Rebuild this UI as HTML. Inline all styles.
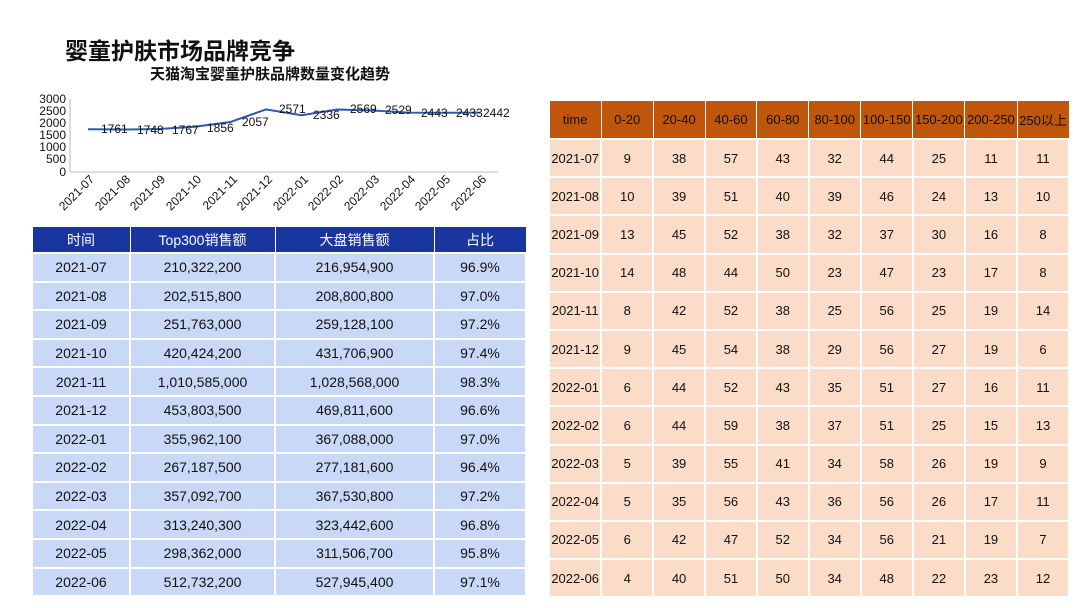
<!DOCTYPE html>
<html><head><meta charset="utf-8"><style>
body{margin:0;width:1080px;height:608px;background:#fff;position:relative;overflow:hidden;font-family:"Liberation Sans","Noto Sans CJK SC",sans-serif;}
.t1{position:absolute;left:65px;top:32px;font-size:23px;font-weight:bold;color:#111;}
.t2{position:absolute;left:150px;top:63px;font-size:15px;font-weight:bold;color:#111;}
table{position:absolute;border-collapse:collapse;font-size:13px;color:#111;}
td,th{text-align:center;padding:0;font-weight:normal;}
#L{left:31px;top:226px;width:496px;}
#L th{background:#1b35a0;color:#fff;height:25px;border:1.5px solid #fff;font-size:14px;}
#L td{background:#c8d8f6;height:26.6px;border:2px solid #fff;font-size:14px;}
#R{left:548px;top:100px;width:522px;}
#R th{background:#c0560c;color:#111;height:37px;border:1.5px solid #fff;font-size:13px;width:52px;}
#R td{background:#fbdcc8;height:36.2px;border:2px solid #fff;font-size:13px;}
</style></head><body>
<div class="t1">婴童护肤市场品牌竞争</div>
<div class="t2">天猫淘宝婴童护肤品牌数量变化趋势</div>
<svg width="540" height="230" style="position:absolute;left:0;top:0" font-family="Liberation Sans, sans-serif" font-size="12">
<g text-anchor="end" fill="#111">
<text x="66" y="103">3000</text><text x="66" y="115">2500</text><text x="66" y="127">2000</text><text x="66" y="139">1500</text><text x="66" y="151">1000</text><text x="66" y="163">500</text><text x="66" y="176">0</text>
</g>
<line x1="70" y1="99" x2="70" y2="172" stroke="#bbb"/>
<line x1="70" y1="172" x2="498" y2="172" stroke="#bbb"/>
<polyline fill="none" stroke="#2e5aa8" stroke-width="2" points="88,129.2 123.6,129.5 159.2,129 194.8,126.8 230.4,122 266,109.4 301.6,115.2 337.2,109.5 372.8,110.5 408.4,112.6 444,112.8 479.6,112.6"/>
<g fill="#111">
<text x="101" y="133">1761</text><text x="137" y="134">1748</text><text x="172" y="134">1767</text><text x="207" y="132">1856</text><text x="242" y="126">2057</text><text x="279" y="113">2571</text><text x="313" y="119">2336</text><text x="350" y="113">2569</text><text x="385" y="114">2529</text><text x="421" y="117">2443</text><text x="456" y="117">2433</text><text x="483" y="117">2442</text>
</g>
<g fill="#111" font-size="12" text-anchor="end">
<text transform="translate(95,180) rotate(-45)">2021-07</text>
<text transform="translate(131,180) rotate(-45)">2021-08</text>
<text transform="translate(166,180) rotate(-45)">2021-09</text>
<text transform="translate(202,180) rotate(-45)">2021-10</text>
<text transform="translate(238,180) rotate(-45)">2021-11</text>
<text transform="translate(273,180) rotate(-45)">2021-12</text>
<text transform="translate(309,180) rotate(-45)">2022-01</text>
<text transform="translate(344,180) rotate(-45)">2022-02</text>
<text transform="translate(380,180) rotate(-45)">2022-03</text>
<text transform="translate(416,180) rotate(-45)">2022-04</text>
<text transform="translate(451,180) rotate(-45)">2022-05</text>
<text transform="translate(487,180) rotate(-45)">2022-06</text>
</g>
</svg>
<table id="L">
<tr><th style="width:97px">时间</th><th style="width:144px">Top300销售额</th><th style="width:158px">大盘销售额</th><th>占比</th></tr>
<tr><td>2021-07</td><td>210,322,200</td><td>216,954,900</td><td>96.9%</td></tr>
<tr><td>2021-08</td><td>202,515,800</td><td>208,800,800</td><td>97.0%</td></tr>
<tr><td>2021-09</td><td>251,763,000</td><td>259,128,100</td><td>97.2%</td></tr>
<tr><td>2021-10</td><td>420,424,200</td><td>431,706,900</td><td>97.4%</td></tr>
<tr><td>2021-11</td><td>1,010,585,000</td><td>1,028,568,000</td><td>98.3%</td></tr>
<tr><td>2021-12</td><td>453,803,500</td><td>469,811,600</td><td>96.6%</td></tr>
<tr><td>2022-01</td><td>355,962,100</td><td>367,088,000</td><td>97.0%</td></tr>
<tr><td>2022-02</td><td>267,187,500</td><td>277,181,600</td><td>96.4%</td></tr>
<tr><td>2022-03</td><td>357,092,700</td><td>367,530,800</td><td>97.2%</td></tr>
<tr><td>2022-04</td><td>313,240,300</td><td>323,442,600</td><td>96.8%</td></tr>
<tr><td>2022-05</td><td>298,362,000</td><td>311,506,700</td><td>95.8%</td></tr>
<tr><td>2022-06</td><td>512,732,200</td><td>527,945,400</td><td>97.1%</td></tr>
</table>
<table id="R">
<tr><th>time</th><th>0-20</th><th>20-40</th><th>40-60</th><th>60-80</th><th>80-100</th><th>100-150</th><th>150-200</th><th>200-250</th><th>250以上</th></tr>
<tr><td>2021-07</td><td>9</td><td>38</td><td>57</td><td>43</td><td>32</td><td>44</td><td>25</td><td>11</td><td>11</td></tr>
<tr><td>2021-08</td><td>10</td><td>39</td><td>51</td><td>40</td><td>39</td><td>46</td><td>24</td><td>13</td><td>10</td></tr>
<tr><td>2021-09</td><td>13</td><td>45</td><td>52</td><td>38</td><td>32</td><td>37</td><td>30</td><td>16</td><td>8</td></tr>
<tr><td>2021-10</td><td>14</td><td>48</td><td>44</td><td>50</td><td>23</td><td>47</td><td>23</td><td>17</td><td>8</td></tr>
<tr><td>2021-11</td><td>8</td><td>42</td><td>52</td><td>38</td><td>25</td><td>56</td><td>25</td><td>19</td><td>14</td></tr>
<tr><td>2021-12</td><td>9</td><td>45</td><td>54</td><td>38</td><td>29</td><td>56</td><td>27</td><td>19</td><td>6</td></tr>
<tr><td>2022-01</td><td>6</td><td>44</td><td>52</td><td>43</td><td>35</td><td>51</td><td>27</td><td>16</td><td>11</td></tr>
<tr><td>2022-02</td><td>6</td><td>44</td><td>59</td><td>38</td><td>37</td><td>51</td><td>25</td><td>15</td><td>13</td></tr>
<tr><td>2022-03</td><td>5</td><td>39</td><td>55</td><td>41</td><td>34</td><td>58</td><td>26</td><td>19</td><td>9</td></tr>
<tr><td>2022-04</td><td>5</td><td>35</td><td>56</td><td>43</td><td>36</td><td>56</td><td>26</td><td>17</td><td>11</td></tr>
<tr><td>2022-05</td><td>6</td><td>42</td><td>47</td><td>52</td><td>34</td><td>56</td><td>21</td><td>19</td><td>7</td></tr>
<tr><td>2022-06</td><td>4</td><td>40</td><td>51</td><td>50</td><td>34</td><td>48</td><td>22</td><td>23</td><td>12</td></tr>
</table>
</body></html>
